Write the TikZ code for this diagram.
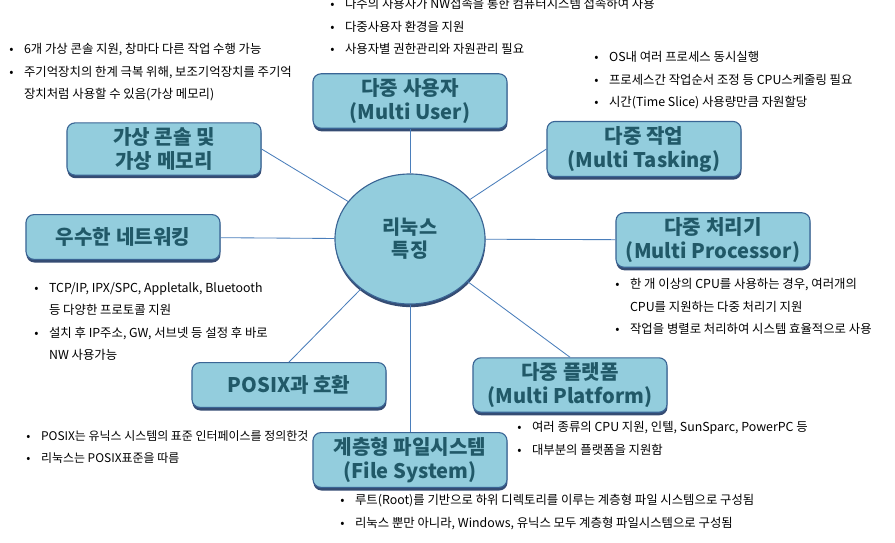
\documentclass[tikz,border=0pt]{standalone}
\usepackage{fontspec}
\setmainfont{Noto Sans CJK KR}
\usetikzlibrary{shapes.geometric, shadows}

\definecolor{boxfill}{HTML}{93CDDD}
\definecolor{boxline}{HTML}{3A6595}
\definecolor{boxtext}{HTML}{215968}
\definecolor{linkblue}{HTML}{4A7EBB}
\definecolor{shadowblue}{HTML}{1F3864}

\tikzset{
  feature/.style={rectangle, rounded corners=0.2cm, draw=boxline, line width=0.8pt,
    fill=boxfill, minimum width=4.85cm, minimum height=1.12cm, align=center,
    text=boxtext, font=\fontsize{14.3}{17}\selectfont\bfseries,
    drop shadow={shadow xshift=0.3pt, shadow yshift=-2.2pt, fill=shadowblue, opacity=0.9}},
  core/.style={ellipse, draw=boxline, line width=0.8pt, fill=boxfill,
    minimum width=3.75cm, minimum height=3.25cm, align=center,
    text=boxtext, font=\fontsize{14}{16.5}\selectfont\bfseries,
    drop shadow={shadow xshift=0.3pt, shadow yshift=-2.2pt, fill=shadowblue, opacity=0.9}},
  link/.style={draw=linkblue, line width=0.6pt},
  bullets/.style={anchor=north west, align=left, inner sep=0pt,
    font=\fontsize{8.8}{16}\selectfont},
}
\newcommand{\bul}{\makebox[0.37cm][l]{\textbullet}}
\newcommand{\cont}{\hspace*{0.37cm}}

\begin{document}
\begin{tikzpicture}[x=0.025cm, y=-0.025cm]
    \useasboundingbox (0, 0) rectangle (895, 542);

        % Draw the features
        \node[core]    at (410, 239) (core)     {리눅스\\특징};
        \node[feature] at (410, 101) (user)     {다중 사용자\\(Multi User)};
        \node[feature] at (644, 149) (tasking)  {다중 작업\\(Multi Tasking)};
        \node[feature] at (713, 240) (proc)     {다중 처리기\\(Multi Processor)};
        \node[feature] at (570, 385) (platform) {다중 플랫폼\\(Multi Platform)};
        \node[feature] at (410, 460) (fs)       {계층형 파일시스템\\(File System)};
        \node[feature] at (289, 385) (posix)    {POSIX과 호환};
        \node[feature] at (123, 237) (net)      {우수한 네트워킹};
        \node[feature] at (164, 149) (virtual)  {가상 콘솔 및\\가상 메모리};

        % Connect the core with the features
        \draw[link]
            (core) edge (user)
            (core) edge (tasking.west)
            (core) edge (proc)
            (core) edge (platform.north)
            (core) edge (fs)
            (core) edge (posix.north)
            (core) edge (net)
            (core) edge (virtual.east);

        % Bullet lists
        \node[bullets] at (330, -2) (userlist)
            {\bul 다수의 사용자가 NW접속을 통한 컴퓨터시스템 접속하여 사용\\
             \bul 다중사용자 환경을 지원\\
             \bul 사용자별 권한관리와 자원관리 필요};
        \node[bullets] at (594, 51) (tasklist)
            {\bul OS내 여러 프로세스 동시실행\\
             \bul 프로세스간 작업순서 조정 등 CPU스케줄링 필요\\
             \bul 시간(Time Slice) 사용량만큼 자원할당};
        \node[bullets] at (9, 43) (virtlist)
            {\bul 6개 가상 콘솔 지원, 창마다 다른 작업 수행 가능\\
             \bul 주기억장치의 한계 극복 위해, 보조기억장치를 주기억\\
             \cont 장치처럼 사용할 수 있음(가상 메모리)};
        \node[bullets] at (34, 282) (netlist)
            {\bul TCP/IP, IPX/SPC, Appletalk, Bluetooth\\
             \cont 등 다양한 프로토콜 지원\\
             \bul 설치 후 IP주소, GW, 서브넷 등 설정 후 바로\\
             \cont NW 사용가능};
        \node[bullets] at (615, 278) (proclist)
            {\bul 한 개 이상의 CPU를 사용하는 경우, 여러개의\\
             \cont CPU를 지원하는 다중 처리기 지원\\
             \bul 작업을 병렬로 처리하여 시스템 효율적으로 사용};
        \node[bullets, font=\fontsize{8.5}{16}\selectfont] at (26, 430) (posixlist)
            {\bul POSIX는 유닉스 시스템의 표준 인터페이스를 정의한것\\
             \bul 리눅스는 POSIX표준을 따름};
        \node[bullets] at (517, 421) (platlist)
            {\bul 여러 종류의 CPU 지원, 인텔, SunSparc, PowerPC 등\\
             \bul 대부분의 플랫폼을 지원함};
        \node[bullets] at (340, 494) (fslist)
            {\bul 루트(Root)를 기반으로 하위 디렉토리를 이루는 계층형 파일 시스템으로 구성됨\\
             \bul 리눅스 뿐만 아니라, Windows, 유닉스 모두 계층형 파일시스템으로 구성됨};
    \end{tikzpicture}
\end{document}
